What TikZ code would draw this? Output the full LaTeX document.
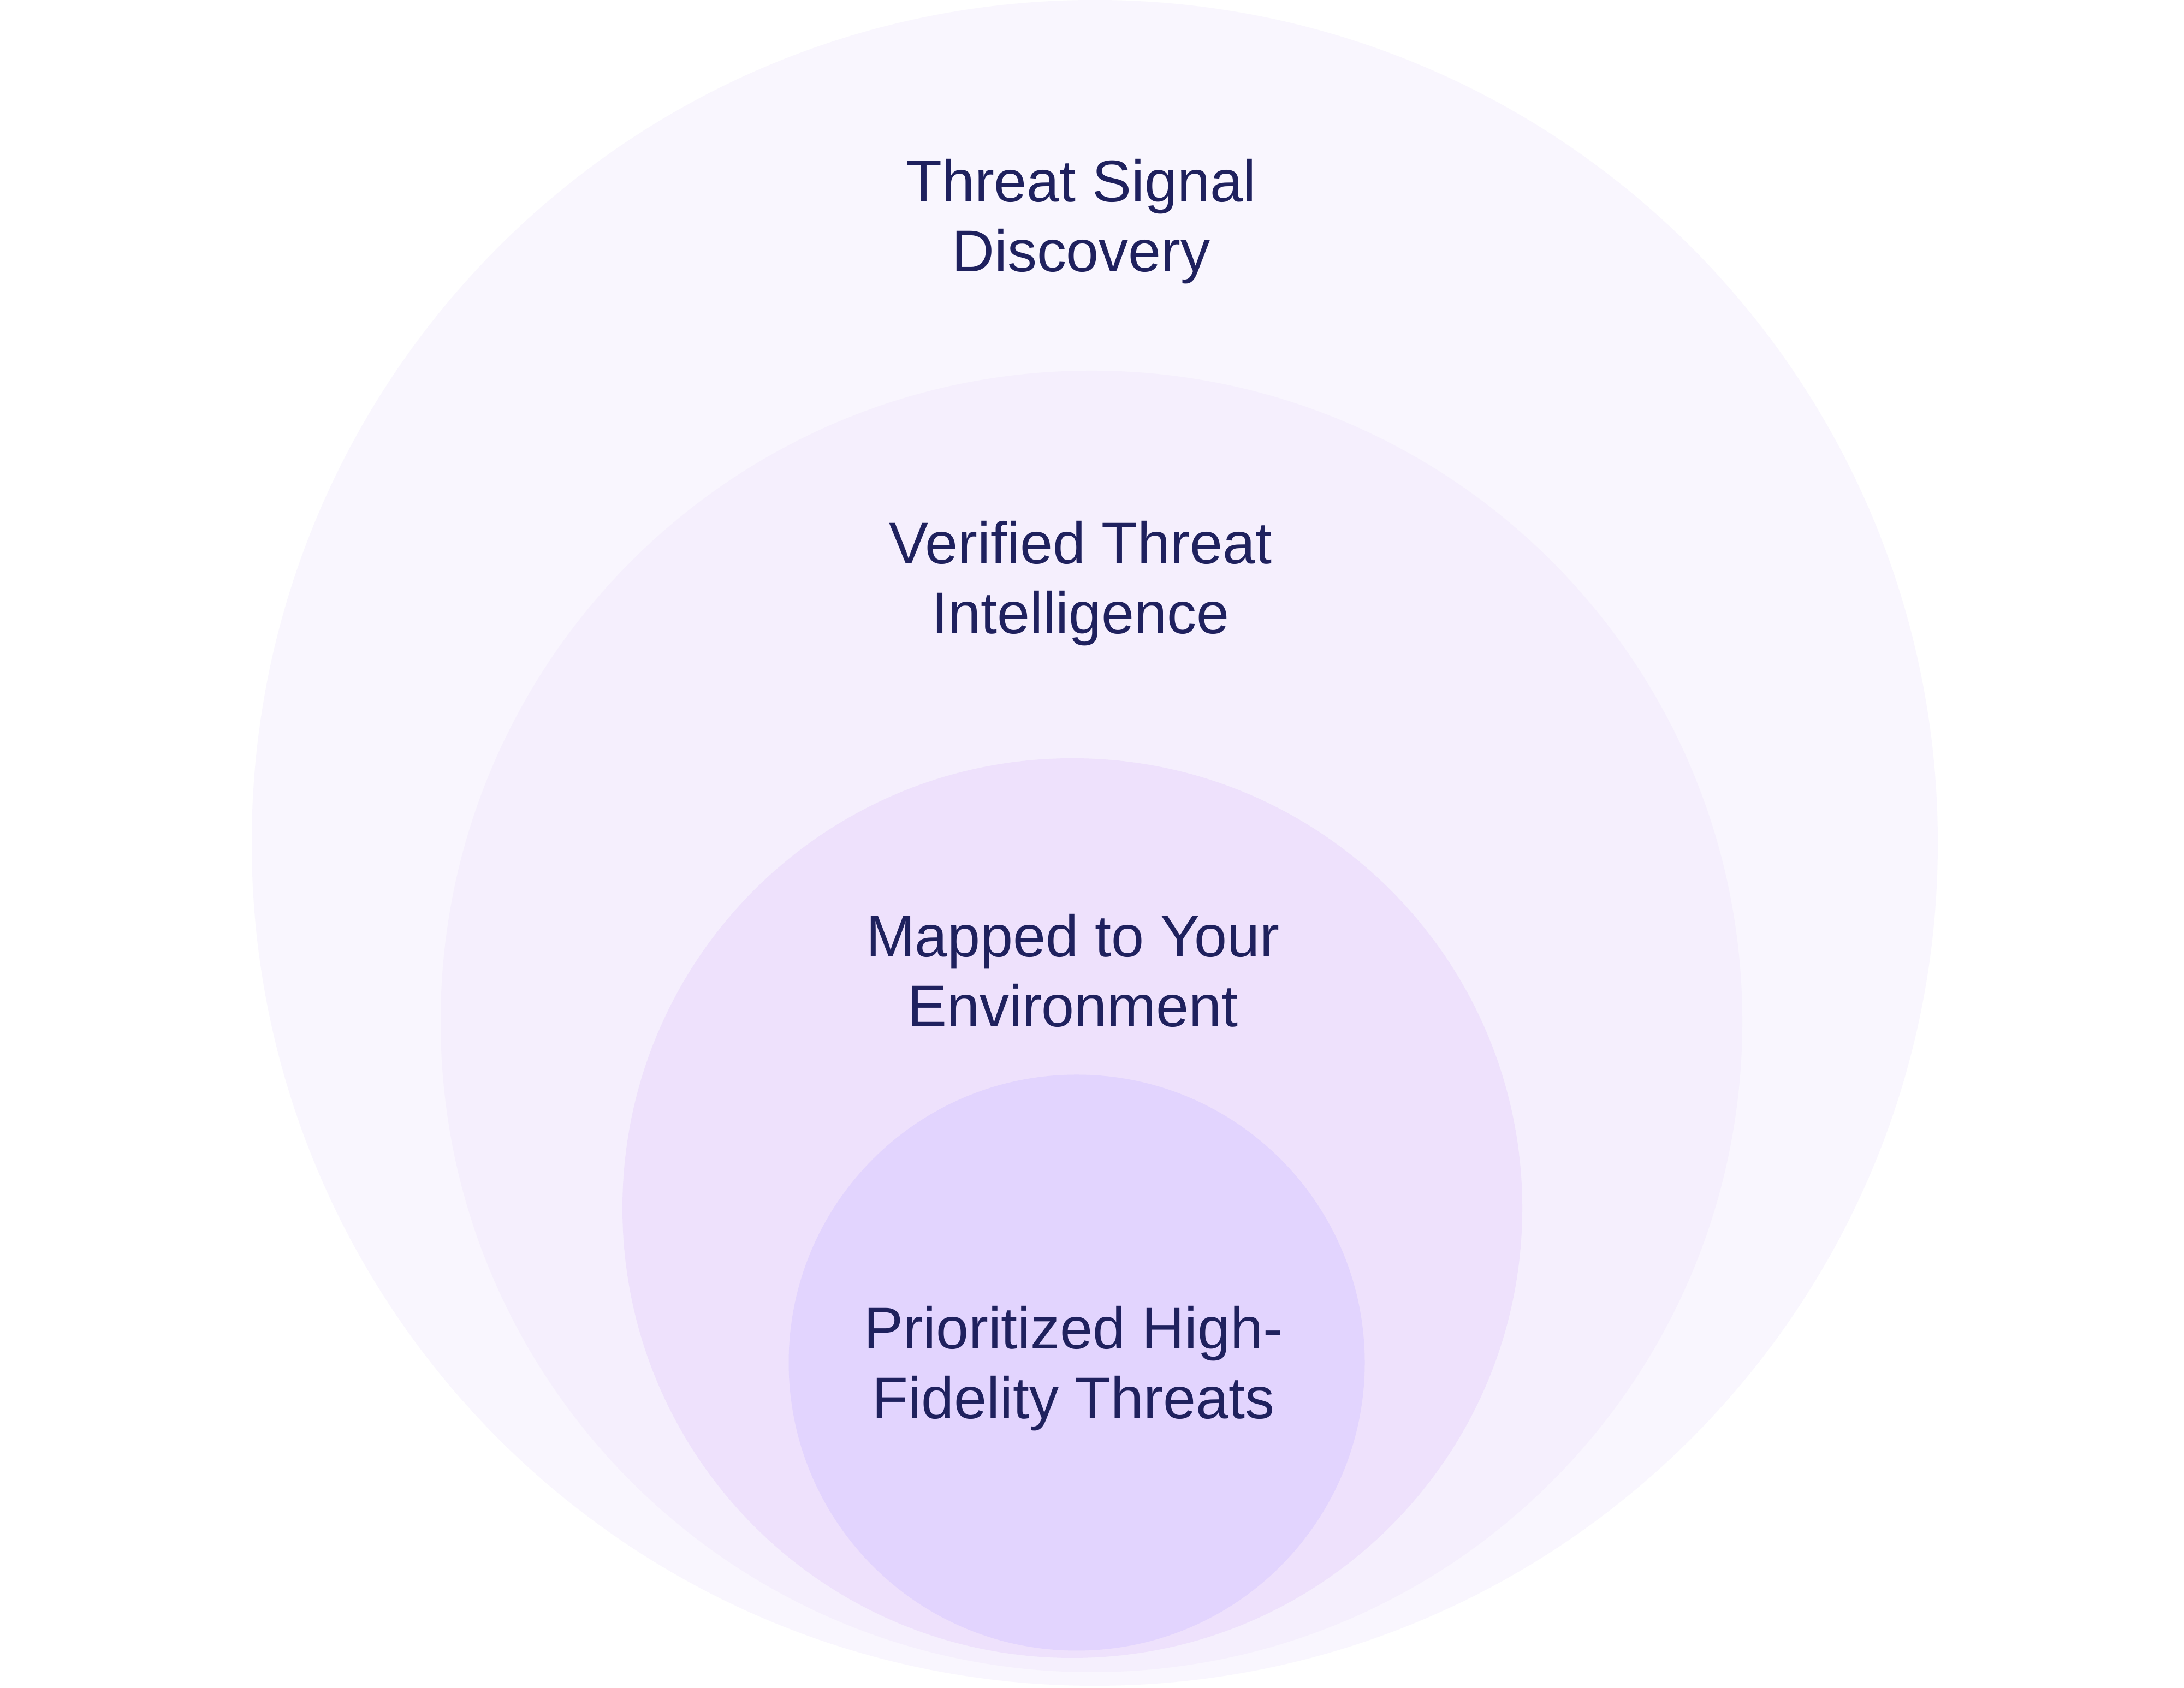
\documentclass[tikz,border=0pt]{standalone}
\usepackage{fontspec}
\setmainfont{Liberation Sans}
\definecolor{ringA}{HTML}{F9F6FE}
\definecolor{ringB}{HTML}{F5EFFD}
\definecolor{ringC}{HTML}{EEE1FC}
\definecolor{ringD}{HTML}{E2D4FE}
\definecolor{navy}{HTML}{1F215E}
\begin{document}
\begin{tikzpicture}[lbl/.style={text=navy, font=\fontsize{30.7}{36.6}\selectfont, align=center, inner sep=0pt, anchor=base}]
	\fill[white] (0,0) rectangle (40,30.92);
	\fill[ringA] (20.05,15.48) circle (15.44);
	\fill[ringB] (19.99,12.21) circle (11.92);
	\fill[ringC] (19.64,8.79) circle (8.24);
	\fill[ringD] (19.72,5.96) circle (5.275);
	\node[lbl] (discovery) at (19.80,25.94) {Threat Signal\\Discovery};
	\node[lbl] (verified) at (19.79,19.31) {Verified Threat\\Intelligence};
	\node[lbl] (mapped) at (19.65,12.11) {Mapped to Your\\Environment};
	\node[lbl] (prioritized) at (19.66,4.93) {Prioritized High-\\Fidelity Threats};
\end{tikzpicture}
\end{document}
